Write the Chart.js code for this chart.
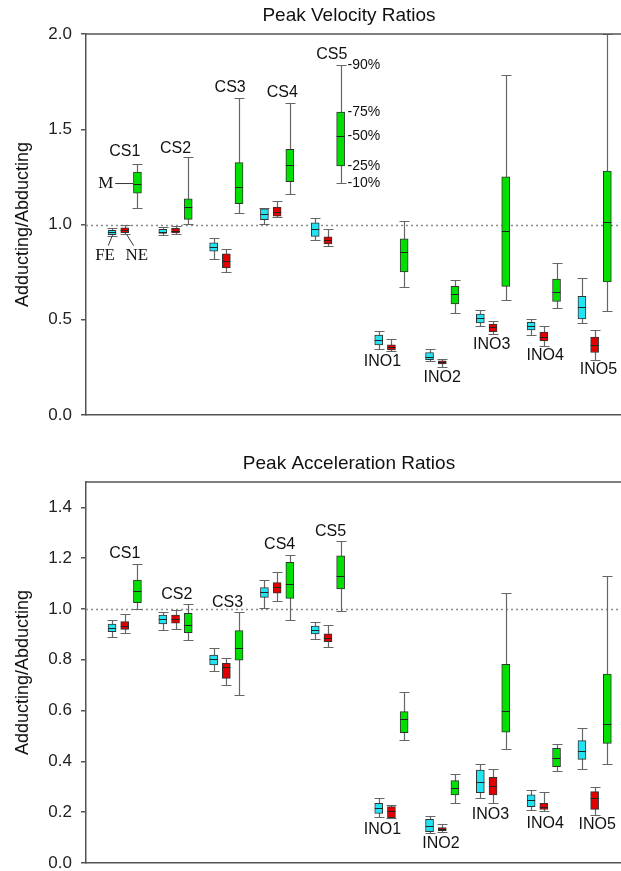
<!DOCTYPE html>
<html>
<head>
<meta charset="utf-8">
<script src="https://cdn.jsdelivr.net/npm/chart.js@4.4.0/dist/chart.umd.min.js"></script>
<style>
  html, body { margin: 0; padding: 0; background: #fff; overflow: hidden; width: 621px; height: 871px; }
  .wrap { position: absolute; left: 0; width: 640px; }
  #velWrap { top: 0; height: 435px; }
  #accWrap { top: 440px; height: 443px; }
</style>
</head>
<body>
<div class="wrap" id="velWrap"><canvas id="velChart" width="640" height="435"></canvas></div>
<div class="wrap" id="accWrap"><canvas id="accChart" width="640" height="443"></canvas></div>
<script>
// groups along the x axis (slot numbers: FE at slot, NE slot+1, M slot+2)
const groups = ['CS1', 'CS2', 'CS3', 'CS4', 'CS5', 'INO1', 'INO2', 'INO3', 'INO4', 'INO5'];
const groupSlots = [0, 4, 8, 12, 16, 21, 25, 29, 33, 37];

// each box: [10%, 25%, 50%, 75%, 90%]
const velFE = [
  [0.94, 0.947, 0.96, 0.97, 0.982],
  [0.947, 0.953, 0.963, 0.975, 0.985],
  [0.82, 0.86, 0.882, 0.904, 0.93],
  [1.004, 1.026, 1.053, 1.082, 1.088],
  [0.917, 0.938, 0.974, 1.009, 1.032],
  [0.347, 0.368, 0.395, 0.42, 0.442],
  [0.284, 0.29, 0.307, 0.328, 0.347],
  [0.468, 0.483, 0.509, 0.53, 0.549],
  [0.421, 0.447, 0.465, 0.486, 0.504],
  [0.483, 0.504, 0.565, 0.623, 0.72]
];
const velNE = [
  [0.95, 0.957, 0.97, 0.982, 0.995],
  [0.948, 0.956, 0.968, 0.98, 0.99],
  [0.75, 0.772, 0.807, 0.846, 0.872],
  [1.04, 1.044, 1.068, 1.091, 1.123],
  [0.889, 0.898, 0.917, 0.935, 0.974],
  [0.337, 0.342, 0.355, 0.368, 0.4],
  [0.253, 0.268, 0.276, 0.284, 0.295],
  [0.426, 0.438, 0.46, 0.477, 0.495],
  [0.363, 0.389, 0.412, 0.435, 0.465],
  [0.289, 0.328, 0.368, 0.409, 0.447]
];
const velM = [
  [1.085, 1.165, 1.215, 1.275, 1.32],
  [1.005, 1.027, 1.09, 1.135, 1.355],
  [1.058, 1.11, 1.195, 1.325, 1.665],
  [1.16, 1.225, 1.31, 1.395, 1.64],
  [1.216, 1.307, 1.465, 1.59, 1.837],
  [0.67, 0.751, 0.854, 0.925, 1.017],
  [0.535, 0.583, 0.635, 0.675, 0.71],
  [0.605, 0.675, 0.965, 1.25, 1.786],
  [0.56, 0.596, 0.646, 0.714, 0.798],
  [0.544, 0.698, 1.012, 1.28, 2.0]
];

const accFE = [
  [0.889, 0.911, 0.926, 0.941, 0.957],
  [0.917, 0.941, 0.959, 0.976, 0.989],
  [0.756, 0.78, 0.802, 0.819, 0.845],
  [1.003, 1.046, 1.066, 1.084, 1.114],
  [0.882, 0.902, 0.917, 0.933, 0.95],
  [0.18, 0.195, 0.215, 0.235, 0.254],
  [0.119, 0.123, 0.147, 0.172, 0.185],
  [0.257, 0.277, 0.318, 0.366, 0.39],
  [0.209, 0.222, 0.248, 0.268, 0.287],
  [0.369, 0.408, 0.442, 0.482, 0.533]
];
const accNE = [
  [0.907, 0.92, 0.934, 0.95, 0.98],
  [0.921, 0.944, 0.959, 0.976, 0.996],
  [0.701, 0.727, 0.77, 0.786, 0.806],
  [1.03, 1.062, 1.088, 1.104, 1.147],
  [0.849, 0.871, 0.887, 0.902, 0.937],
  [0.176, 0.178, 0.205, 0.222, 0.228],
  [0.123, 0.127, 0.133, 0.139, 0.154],
  [0.237, 0.268, 0.304, 0.337, 0.369],
  [0.206, 0.211, 0.222, 0.235, 0.281],
  [0.189, 0.211, 0.254, 0.281, 0.3]
];
const accM = [
  [1.0, 1.025, 1.072, 1.114, 1.177],
  [0.878, 0.907, 0.937, 0.983, 1.018],
  [0.661, 0.799, 0.845, 0.915, 0.987],
  [0.957, 1.042, 1.097, 1.184, 1.213],
  [0.992, 1.079, 1.13, 1.209, 1.268],
  [0.484, 0.513, 0.566, 0.596, 0.672],
  [0.237, 0.268, 0.297, 0.324, 0.349],
  [0.449, 0.515, 0.598, 0.782, 1.064],
  [0.363, 0.379, 0.415, 0.451, 0.469],
  [0.389, 0.471, 0.546, 0.744, 1.13]
];

const velTicks = [0, 0.5, 1.0, 1.5, 2.0];
const accTicks = [0, 0.2, 0.4, 0.6, 0.8, 1.0, 1.2, 1.4];
const percentLabels = ['-10%', '-25%', '-50%', '-75%', '-90%'];

// group label anchors: [slot, value]
const velLabelPos = [[1.0, 1.384], [5.0, 1.4], [9.3, 1.72], [13.4, 1.695], [17.3, 1.89],
  [21.3, 0.279], [26.0, 0.195], [29.9, 0.368], [34.1, 0.31], [38.3, 0.237]];
const accLabelPos = [[1.0, 1.217], [5.1, 1.055], [9.1, 1.024], [13.2, 1.252], [17.2, 1.303],
  [21.3, 0.13], [25.9, 0.075], [29.8, 0.189], [34.1, 0.157], [38.2, 0.15]];

const colors = { FE: '#22e3f2', NE: '#e00000', M: '#00e000' };
const sans = '"Liberation Sans", Arial, sans-serif';
const serif = '"Liberation Serif", "Times New Roman", serif';

function makeDatasets(fe, ne, m) {
  return [['FE', fe, 0], ['NE', ne, 1], ['M', m, 2]].map(([name, stats, off]) => ({
    label: name,
    stats: stats,
    data: stats.map((s, i) => ({ x: groupSlots[i] + off, y: [s[1], s[3]] })),
    backgroundColor: colors[name],
    borderColor: '#333',
    borderWidth: 1,
    borderSkipped: false,
    barThickness: 8,
    grouped: false
  }));
}

const boxPlugin = {
  id: 'boxPlot',
  beforeDatasetsDraw(chart) {
    const { ctx, chartArea: a, scales: { y } } = chart;
    ctx.save();
    // dotted reference line at 1.0
    const y1 = Math.round(y.getPixelForValue(1)) + 0.5;
    ctx.strokeStyle = '#8c8c8c';
    ctx.lineWidth = 1.3;
    ctx.setLineDash([2, 3]);
    ctx.beginPath(); ctx.moveTo(a.left, y1); ctx.lineTo(a.right, y1); ctx.stroke();
    ctx.setLineDash([]);
    // whiskers 10% - 90%
    ctx.strokeStyle = '#666';
    ctx.lineWidth = 1.2;
    chart.data.datasets.forEach((ds, di) => {
      const meta = chart.getDatasetMeta(di);
      ds.stats.forEach((s, i) => {
        const x = Math.round(meta.data[i].x) + 0.5;
        const lo = Math.round(y.getPixelForValue(s[0])) + 0.5;
        const hi = Math.round(y.getPixelForValue(s[4])) + 0.5;
        ctx.beginPath();
        ctx.moveTo(x, lo); ctx.lineTo(x, hi);
        ctx.moveTo(x - 5, lo); ctx.lineTo(x + 5, lo);
        ctx.moveTo(x - 5, hi); ctx.lineTo(x + 5, hi);
        ctx.stroke();
      });
    });
    ctx.restore();
  },
  afterDatasetsDraw(chart) {
    const { ctx, scales: { y } } = chart;
    ctx.save();
    ctx.strokeStyle = '#222';
    ctx.lineWidth = 1;
    chart.data.datasets.forEach((ds, di) => {
      const meta = chart.getDatasetMeta(di);
      ds.stats.forEach((s, i) => {
        const bar = meta.data[i];
        const ym = Math.round(y.getPixelForValue(s[2])) + 0.5;
        ctx.beginPath();
        ctx.moveTo(bar.x - bar.width / 2, ym); ctx.lineTo(bar.x + bar.width / 2, ym);
        ctx.stroke();
      });
    });
    ctx.restore();
  },
  afterDraw(chart) {
    const { ctx, chartArea: a, scales: { x, y } } = chart;
    const o = chart.options.plugins.boxPlot;
    ctx.save();
    // top frame line
    ctx.strokeStyle = '#555';
    ctx.lineWidth = 1.5;
    ctx.beginPath(); ctx.moveTo(a.left, a.top); ctx.lineTo(a.right, a.top); ctx.stroke();
    // title
    ctx.fillStyle = '#111';
    ctx.textAlign = 'center';
    ctx.textBaseline = 'middle';
    ctx.font = '19px ' + sans;
    ctx.fillText(o.title, 349, o.titleY);
    // group labels
    ctx.font = '16px ' + sans;
    o.labelPos.forEach((p, i) => {
      ctx.fillText(groups[i], x.getPixelForValue(p[0]), y.getPixelForValue(p[1]));
    });
    if (o.key) {
      // percentile key beside CS5 M
      const m = velM[4];
      ctx.textAlign = 'left';
      ctx.font = '14px ' + sans;
      m.forEach((v, k) => {
        ctx.fillText(percentLabels[k], x.getPixelForValue(18.55), y.getPixelForValue(v));
      });
      // FE / NE / M key at CS1
      ctx.strokeStyle = '#333';
      ctx.lineWidth = 1;
      const med = y.getPixelForValue(velM[0][2]);
      ctx.beginPath();
      ctx.moveTo(x.getPixelForValue(0.25), med); ctx.lineTo(x.getPixelForValue(1.65), med);
      ctx.moveTo(x.getPixelForValue(0), y.getPixelForValue(0.938));
      ctx.lineTo(x.getPixelForValue(-0.3), y.getPixelForValue(0.889));
      ctx.moveTo(x.getPixelForValue(1.15), y.getPixelForValue(0.948));
      ctx.lineTo(x.getPixelForValue(1.7), y.getPixelForValue(0.889));
      ctx.stroke();
      ctx.textAlign = 'center';
      ctx.font = '17px ' + serif;
      ctx.fillText('M', x.getPixelForValue(-0.5), med);
      ctx.fillText('FE', x.getPixelForValue(-0.55), y.getPixelForValue(0.835));
      ctx.fillText('NE', x.getPixelForValue(1.95), y.getPixelForValue(0.835));
    }
    ctx.restore();
  }
};

function makeChart(id, fe, ne, m, cfg) {
  const ctx = document.getElementById(id).getContext('2d');
  return new Chart(ctx, {
    type: 'bar',
    data: { datasets: makeDatasets(fe, ne, m) },
    plugins: [boxPlugin],
    options: {
      responsive: false,
      animation: false,
      layout: { padding: { top: cfg.padTop, left: 0, right: 0, bottom: 0 } },
      plugins: {
        legend: { display: false },
        tooltip: { enabled: false },
        boxPlot: cfg
      },
      scales: {
        x: {
          type: 'linear',
          offset: false,
          min: -2.05,
          max: -2.05 + (640 - 86) / 12.7,
          grid: { display: false },
          ticks: { display: false },
          border: { color: '#555', width: 1.5 },
          afterFit: s => { s.height = cfg.xHeight; }
        },
        y: {
          min: 0,
          max: cfg.max,
          afterBuildTicks: s => { s.ticks = cfg.ticks.map(v => ({ value: v })); },
          ticks: {
            callback: v => v.toFixed(1),
            font: { family: sans, size: 17 },
            color: '#222',
            padding: 9
          },
          grid: { drawOnChartArea: false, tickLength: 5, color: '#555', lineWidth: 1.5 },
          border: { color: '#555', width: 1.5 },
          title: {
            display: true,
            text: 'Adducting/Abducting',
            font: { family: sans, size: 18 },
            color: '#111',
            padding: { top: 12, bottom: 0 }
          },
          afterFit: s => { s.width = 86; }
        }
      }
    }
  });
}

makeChart('velChart', velFE, velNE, velM, {
  title: 'Peak Velocity Ratios', titleY: 16, padTop: 34, xHeight: 20,
  max: 2.0, ticks: velTicks, labelPos: velLabelPos, key: true
});
makeChart('accChart', accFE, accNE, accM, {
  title: 'Peak Acceleration Ratios', titleY: 24, padTop: 42, xHeight: 20,
  max: 1.5, ticks: accTicks, labelPos: accLabelPos, key: false
});
</script>
</body>
</html>
